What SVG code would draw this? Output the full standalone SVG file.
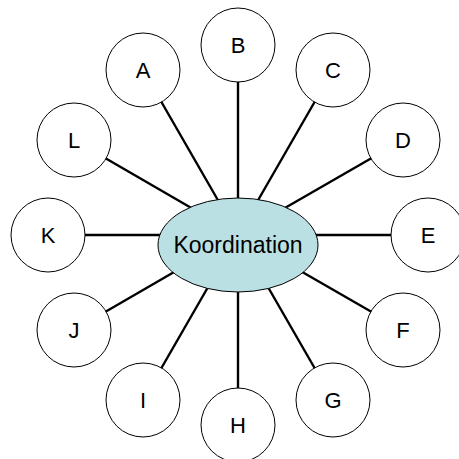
<svg xmlns="http://www.w3.org/2000/svg" width="459" height="459" viewBox="0 0 459 459">
  <style>
    .link { stroke: #000; stroke-width: 2.4; fill: none; }
    .node circle { fill: #fff; stroke: #000; stroke-width: 1; }
    .hub ellipse { fill: #BBE0E3; stroke: #000; stroke-width: 1; }
    text { font-family: "Liberation Sans", Arial, sans-serif; fill: #000; text-anchor: middle; }
    .node text { font-size: 22px; }
    .hub text { font-size: 23px; }
  </style>
  <rect width="459" height="459" fill="#fff"/>

  <!-- spokes from each satellite towards the hub -->
  <g id="connectors">
    <line class="link" x1="143" y1="70" x2="238" y2="235"/>
    <line class="link" x1="238" y1="45" x2="238" y2="235"/>
    <line class="link" x1="333" y1="70" x2="238" y2="235"/>
    <line class="link" x1="403" y1="140" x2="238" y2="235"/>
    <line class="link" x1="428" y1="235" x2="238" y2="235"/>
    <line class="link" x1="403" y1="330" x2="238" y2="235"/>
    <line class="link" x1="333" y1="400" x2="238" y2="235"/>
    <line class="link" x1="238" y1="425" x2="238" y2="235"/>
    <line class="link" x1="143" y1="400" x2="238" y2="235"/>
    <line class="link" x1="74" y1="330" x2="238" y2="235"/>
    <line class="link" x1="48" y1="235" x2="238" y2="235"/>
    <line class="link" x1="74" y1="140" x2="238" y2="235"/>
  </g>

  <g id="hub" class="hub">
    <ellipse cx="238" cy="245" rx="80" ry="47"/>
    <text x="238" y="253">Koordination</text>
  </g>

  <g id="node-A" class="node"><circle cx="143" cy="70" r="37"/><text x="143" y="78">A</text></g>
  <g id="node-B" class="node"><circle cx="238" cy="45" r="37"/><text x="238" y="53">B</text></g>
  <g id="node-C" class="node"><circle cx="333" cy="70" r="37"/><text x="333" y="78">C</text></g>
  <g id="node-D" class="node"><circle cx="403" cy="140" r="37"/><text x="403" y="148">D</text></g>
  <g id="node-E" class="node"><circle cx="428" cy="235" r="37"/><text x="428" y="243">E</text></g>
  <g id="node-F" class="node"><circle cx="403" cy="330" r="37"/><text x="403" y="338">F</text></g>
  <g id="node-G" class="node"><circle cx="333" cy="400" r="37"/><text x="333" y="408">G</text></g>
  <g id="node-H" class="node"><circle cx="238" cy="425" r="37"/><text x="238" y="433">H</text></g>
  <g id="node-I" class="node"><circle cx="143" cy="400" r="37"/><text x="143" y="408">I</text></g>
  <g id="node-J" class="node"><circle cx="74" cy="330" r="37"/><text x="74" y="338">J</text></g>
  <g id="node-K" class="node"><circle cx="48" cy="235" r="37"/><text x="48" y="243">K</text></g>
  <g id="node-L" class="node"><circle cx="74" cy="140" r="37"/><text x="74" y="148">L</text></g>
</svg>
